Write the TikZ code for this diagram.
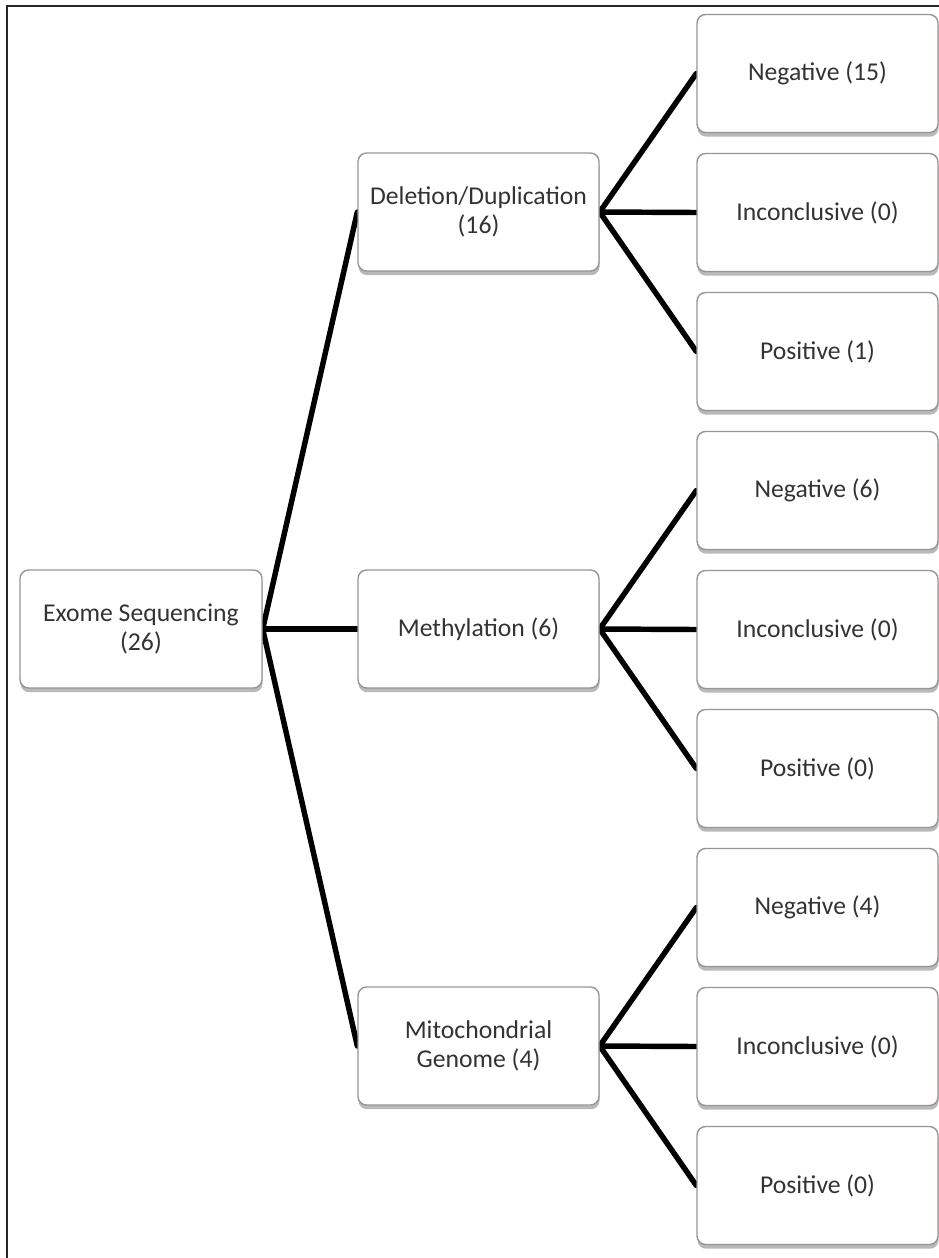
\documentclass[tikz,border=0pt]{standalone}
\usepackage{fontspec}
\setmainfont{Carlito}
\usetikzlibrary{shadows}
\definecolor{txt}{HTML}{333333}
\definecolor{boxline}{HTML}{9A9494}
\pgfdeclarelayer{background}
\pgfsetlayers{background,main}
\tikzset{
  box/.style={draw=boxline, line width=0.8pt, fill=white, rounded corners=0.17cm,
    minimum width=4.82cm, minimum height=2.36cm, inner sep=2pt, align=center,
    text=txt, font=\fontsize{14.6}{16.5}\selectfont,
    drop shadow={shadow xshift=0.3pt, shadow yshift=-2.4pt, opacity=0.55, fill=gray}},
  conn/.style={line width=3.1pt, black, line cap=round},
  frameline/.style={line width=1.2pt, black!85}
}
\begin{document}
\begin{tikzpicture}[x=0.02cm, y=-0.02cm]
\useasboundingbox (0,0) rectangle (939,1258);
\coordinate (ftl) at (7,6);
\coordinate (ftr) at (939,6);
\coordinate (fbl) at (7,1258);
\draw[frameline] (fbl) -- (ftl) -- (ftr);
% root
\node[box, minimum width=4.84cm] (exome) at (141,629) {Exome Sequencing\\(26)};
% middle
\node[box] (del) at (478.5,212) {Deletion/Duplication\\(16)};
\node[box] (meth) at (478.5,629) {Methylation (6)};
\node[box] (mito) at (478.5,1046) {Mitochondrial\\Genome (4)};
% right
\node[box] (n1) at (817.5,73.5) {Negative (15)};
\node[box] (i1) at (817.5,212.5) {Inconclusive (0)};
\node[box] (p1) at (817.5,351.5) {Positive (1)};
\node[box] (n2) at (817.5,490.5) {Negative (6)};
\node[box] (i2) at (817.5,629.5) {Inconclusive (0)};
\node[box] (p2) at (817.5,768.5) {Positive (0)};
\node[box] (n3) at (817.5,907.5) {Negative (4)};
\node[box] (i3) at (817.5,1046.5) {Inconclusive (0)};
\node[box] (p3) at (817.5,1185.5) {Positive (0)};
% connectors
\begin{pgfonlayer}{background}
\fill[white] (0,0) rectangle (939,1258);
\foreach \m in {del,meth,mito} \draw[conn] (exome.east) -- (\m.west);
\draw[conn] (del.east) -- (n1.west);
\draw[conn] (del.east) -- (i1.west);
\draw[conn] (del.east) -- (p1.west);
\draw[conn] (meth.east) -- (n2.west);
\draw[conn] (meth.east) -- (i2.west);
\draw[conn] (meth.east) -- (p2.west);
\draw[conn] (mito.east) -- (n3.west);
\draw[conn] (mito.east) -- (i3.west);
\draw[conn] (mito.east) -- (p3.west);
\end{pgfonlayer}
\end{tikzpicture}
\end{document}
